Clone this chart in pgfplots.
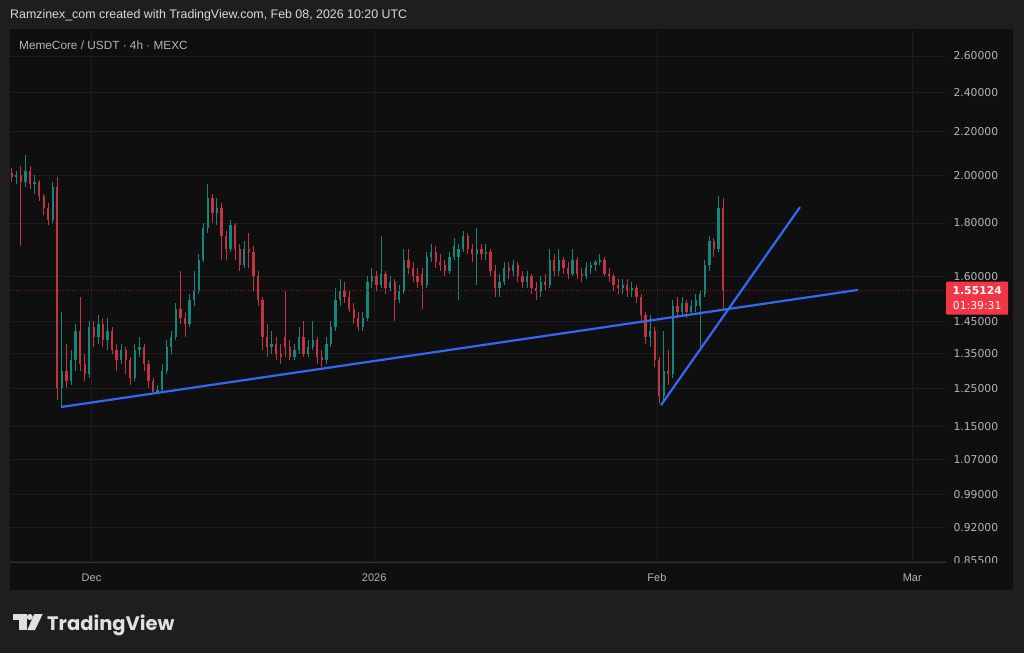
\documentclass[border=0pt]{standalone}
\usepackage{pgfplots}
\pgfplotsset{compat=1.18}
\usepackage{pgfplotstable}
\usepackage{fontspec}
\setmainfont{Liberation Sans}
\newfontfamily\logofont{Poppins}
\newfontfamily\scalefont{DejaVu Sans}

\definecolor{outerbg}{HTML}{1E1E1E}
\definecolor{panelbg}{HTML}{0F0F0F}
\definecolor{gridc}{HTML}{1D1D1D}
\definecolor{upc}{HTML}{13887A}
\definecolor{dnc}{HTML}{C23343}
\definecolor{trend}{HTML}{3468F2}
\definecolor{lbl}{HTML}{B2B5BE}
\definecolor{pricebox}{HTML}{F23645}

% 12h candles, t = days from Dec 1 2025
\pgfplotstableread{
t o h l c
-8.75 2.01 2.03 1.97 1.99
-8.25 1.99 2.02 1.96 2.00
-7.75 2.00 2.04 1.71 1.97
-7.25 1.97 2.09 1.95 2.02
-6.75 2.02 2.04 1.94 1.96
-6.25 1.96 2.00 1.92 1.97
-5.75 1.97 1.98 1.89 1.91
-5.25 1.91 1.92 1.83 1.86
-4.75 1.86 1.88 1.79 1.81
-4.25 1.81 1.97 1.80 1.95
-3.75 1.95 1.99 1.22 1.25
-3.25 1.25 1.48 1.20 1.30
-2.75 1.30 1.38 1.25 1.27
-2.25 1.27 1.36 1.26 1.33
-1.75 1.33 1.44 1.30 1.42
-1.25 1.42 1.53 1.30 1.32
-0.75 1.32 1.35 1.27 1.29
-0.25 1.29 1.45 1.28 1.43
0.25 1.43 1.45 1.37 1.40
0.75 1.40 1.47 1.38 1.44
1.25 1.44 1.46 1.37 1.39
1.75 1.39 1.46 1.36 1.42
2.25 1.42 1.43 1.35 1.36
2.75 1.36 1.38 1.30 1.33
3.25 1.33 1.38 1.32 1.36
3.75 1.36 1.37 1.29 1.33
4.25 1.33 1.34 1.26 1.28
4.75 1.28 1.38 1.27 1.36
5.25 1.36 1.40 1.34 1.37
5.75 1.37 1.38 1.30 1.32
6.25 1.32 1.33 1.25 1.27
6.75 1.27 1.28 1.235 1.24
7.25 1.24 1.26 1.235 1.245
7.75 1.245 1.32 1.24 1.30
8.25 1.30 1.39 1.29 1.37
8.75 1.37 1.42 1.35 1.40
9.25 1.40 1.51 1.39 1.49
9.75 1.49 1.62 1.44 1.46
10.25 1.46 1.48 1.40 1.44
10.75 1.44 1.54 1.43 1.52
11.25 1.52 1.62 1.50 1.55
11.75 1.55 1.68 1.54 1.66
12.25 1.66 1.80 1.65 1.78
12.75 1.78 1.96 1.76 1.90
13.25 1.90 1.92 1.80 1.84
13.75 1.84 1.90 1.79 1.86
14.25 1.86 1.88 1.66 1.75
14.75 1.75 1.77 1.66 1.70
15.25 1.70 1.81 1.69 1.79
15.75 1.79 1.80 1.66 1.70
16.25 1.70 1.72 1.62 1.64
16.75 1.64 1.73 1.63 1.70
17.25 1.70 1.76 1.63 1.69
17.75 1.69 1.71 1.55 1.60
18.25 1.60 1.62 1.50 1.52
18.75 1.52 1.53 1.36 1.40
19.25 1.40 1.44 1.34 1.37
19.75 1.37 1.42 1.35 1.38
20.25 1.38 1.40 1.33 1.35
20.75 1.35 1.38 1.32 1.34
21.25 1.40 1.55 1.34 1.37
21.75 1.37 1.39 1.33 1.34
22.25 1.34 1.38 1.33 1.36
22.75 1.36 1.43 1.35 1.40
23.25 1.40 1.45 1.34 1.35
23.75 1.35 1.39 1.34 1.37
24.25 1.37 1.45 1.36 1.39
24.75 1.39 1.40 1.32 1.34
25.25 1.34 1.36 1.31 1.33
25.75 1.33 1.40 1.32 1.38
26.25 1.38 1.45 1.37 1.43
26.75 1.43 1.56 1.42 1.52
27.25 1.52 1.59 1.50 1.55
27.75 1.55 1.58 1.51 1.53
28.25 1.53 1.55 1.48 1.49
28.75 1.49 1.51 1.44 1.46
29.25 1.46 1.48 1.42 1.43
29.75 1.43 1.48 1.42 1.46
30.25 1.46 1.60 1.45 1.58
30.75 1.58 1.63 1.56 1.60
31.25 1.60 1.62 1.55 1.57
31.75 1.57 1.75 1.56 1.61
32.25 1.61 1.62 1.54 1.56
32.75 1.56 1.60 1.55 1.58
33.25 1.58 1.59 1.45 1.52
33.75 1.52 1.57 1.51 1.55
34.25 1.55 1.70 1.54 1.66
34.75 1.66 1.70 1.61 1.63
35.25 1.63 1.65 1.58 1.60
35.75 1.60 1.63 1.56 1.58
36.25 1.61 1.63 1.49 1.57
36.75 1.57 1.69 1.56 1.67
37.25 1.67 1.72 1.65 1.69
37.75 1.69 1.71 1.63 1.65
38.25 1.65 1.68 1.62 1.64
38.75 1.64 1.66 1.60 1.62
39.25 1.62 1.69 1.61 1.67
39.75 1.67 1.74 1.66 1.71
40.25 1.67 1.72 1.52 1.70
40.75 1.70 1.77 1.69 1.75
41.25 1.75 1.76 1.68 1.70
41.75 1.70 1.72 1.65 1.68
42.25 1.68 1.78 1.57 1.70
42.75 1.70 1.72 1.66 1.68
43.25 1.68 1.72 1.66 1.69
43.75 1.69 1.70 1.60 1.62
44.25 1.62 1.64 1.53 1.56
44.75 1.56 1.61 1.53 1.58
45.25 1.58 1.65 1.57 1.63
45.75 1.63 1.65 1.59 1.62
46.25 1.62 1.66 1.60 1.64
46.75 1.64 1.65 1.58 1.60
47.25 1.60 1.62 1.56 1.58
47.75 1.58 1.62 1.56 1.60
48.25 1.60 1.61 1.54 1.56
48.75 1.56 1.58 1.52 1.55
49.25 1.55 1.60 1.53 1.58
49.75 1.58 1.61 1.55 1.57
50.25 1.57 1.70 1.56 1.66
50.75 1.66 1.68 1.60 1.62
51.25 1.62 1.70 1.60 1.66
51.75 1.66 1.67 1.61 1.63
52.25 1.63 1.65 1.59 1.61
52.75 1.61 1.70 1.60 1.66
53.25 1.66 1.67 1.59 1.61
53.75 1.61 1.63 1.58 1.60
54.25 1.60 1.65 1.59 1.63
54.75 1.63 1.65 1.61 1.64
55.25 1.64 1.66 1.62 1.65
55.75 1.65 1.68 1.64 1.66
56.25 1.66 1.67 1.60 1.61
56.75 1.61 1.63 1.58 1.60
57.25 1.60 1.61 1.55 1.57
57.75 1.57 1.59 1.54 1.56
58.25 1.56 1.59 1.54 1.57
58.75 1.57 1.59 1.53 1.55
59.25 1.55 1.58 1.53 1.56
59.75 1.56 1.57 1.51 1.53
60.25 1.53 1.54 1.45 1.47
60.75 1.47 1.48 1.38 1.40
61.25 1.40 1.47 1.37 1.42
61.75 1.42 1.43 1.31 1.33
62.25 1.33 1.34 1.21 1.23
62.75 1.23 1.42 1.21 1.30
63.25 1.30 1.36 1.26 1.29
63.75 1.29 1.52 1.28 1.50
64.25 1.50 1.53 1.46 1.48
64.75 1.48 1.53 1.47 1.51
65.25 1.51 1.52 1.46 1.48
65.75 1.48 1.52 1.47 1.50
66.25 1.50 1.54 1.48 1.52
66.75 1.50 1.55 1.36 1.54
67.25 1.54 1.66 1.53 1.64
67.75 1.64 1.75 1.62 1.73
68.25 1.73 1.74 1.67 1.70
68.75 1.70 1.91 1.69 1.86
69.25 1.86 1.90 1.49 1.55124
}\candles

% split the table into wick / body segments for up and down candles
\def\upW{}\def\upB{}\def\dnW{}\def\dnB{}
\pgfplotstablegetrowsof{\candles}
\pgfmathtruncatemacro\lastrow{\pgfplotsretval-1}
\foreach \r in {0,...,\lastrow}{%
  \pgfplotstablegetelem{\r}{t}\of\candles \let\ct\pgfplotsretval
  \pgfplotstablegetelem{\r}{o}\of\candles \let\co\pgfplotsretval
  \pgfplotstablegetelem{\r}{h}\of\candles \let\ch\pgfplotsretval
  \pgfplotstablegetelem{\r}{l}\of\candles \let\cl\pgfplotsretval
  \pgfplotstablegetelem{\r}{c}\of\candles \let\cc\pgfplotsretval
  \ifdim\cc pt<\co pt
    \xdef\dnW{\dnW (\ct,\cl) (\ct,\ch) (\ct,nan)}%
    \xdef\dnB{\dnB (\ct,\co) (\ct,\cc) (\ct,nan)}%
  \else
    \xdef\upW{\upW (\ct,\cl) (\ct,\ch) (\ct,nan)}%
    \xdef\upB{\upB (\ct,\co) (\ct,\cc) (\ct,nan)}%
  \fi
}

\begin{document}
\begin{tikzpicture}[x=1pt,y=1pt]
\useasboundingbox (0,0) rectangle (1024,653);
\fill[outerbg] (0,0) rectangle (1024,653);
\fill[panelbg] (10,63) rectangle (1013,624);
\draw[color=black!80!white, line width=0.6pt] (10,91) -- (946,91);

\node[anchor=west, text=white!85!black, inner sep=0pt,
  font=\fontsize{12.4}{14}\selectfont] at (10,638)
  {Ramzinex\_com created with TradingView.com, Feb 08, 2026 10:20 UTC};

\begin{scope}
\clip (0,0) -- (946,0) -- (946,91) -- (1024,91) -- (1024,653) -- (0,653) -- cycle;
\begin{axis}[
  at={(10pt,91pt)}, anchor=south west,
  scale only axis, width=936pt, height=532pt,
  ymode=log, ymin=0.853, ymax=2.753,
  xmin=-8.94, xmax=93.7,
  axis line style={draw=none},
  tick style={draw=none},
  xtick={0,31,62,90},
  xticklabels={Dec,2026,Feb,Mar},
  ytick={0.855,0.92,0.99,1.07,1.15,1.25,1.35,1.45,1.6,1.8,2.0,2.2,2.4,2.6},
  yticklabels={0.85500,0.92000,0.99000,1.07000,1.15000,1.25000,1.35000,1.45000,1.60000,1.80000,2.00000,2.20000,2.40000,2.60000},
  yticklabel pos=right,
  yticklabel style={text=lbl, font=\scalefont\fontsize{10.8}{12}\selectfont, xshift=4pt},
  xticklabel style={text=lbl, font=\fontsize{11}{12}\selectfont, yshift=-8pt},
  grid=major,
  major grid style={draw=gridc, line width=0.8pt},
  unbounded coords=jump,
]
\edef\tmp{\noexpand\addplot[draw=upc, line width=0.9pt, mark=none] coordinates {\upW};}\tmp
\edef\tmp{\noexpand\addplot[draw=dnc, line width=0.9pt, mark=none] coordinates {\dnW};}\tmp
\edef\tmp{\noexpand\addplot[draw=upc, line width=2.3pt, line cap=butt, mark=none] coordinates {\upB};}\tmp
\edef\tmp{\noexpand\addplot[draw=dnc, line width=2.3pt, line cap=butt, mark=none] coordinates {\dnB};}\tmp
% last price line
\addplot[draw=pricebox!55!black, line width=0.8pt, dotted] coordinates {(-8.94,1.55124) (93.7,1.55124)};
% trend lines
\addplot[draw=trend, line width=2.2pt] coordinates {(-3.34,1.200) (84.05,1.553)};
\addplot[draw=trend, line width=2.2pt] coordinates {(62.45,1.205) (77.69,1.864)};
\coordinate (lastp) at (axis cs:93.7,1.55124);
\end{axis}
\end{scope}

\node[fill=pricebox, text=white, anchor=north west, inner sep=0pt, rounded corners=1pt,
  minimum width=62pt, minimum height=33pt, align=center,
  font=\scalefont\fontsize{10.8}{15}\selectfont, yshift=9pt] at (lastp) {\textbf{1.55124}\\01:39:31};

\node[anchor=west, text=lbl, inner sep=0pt, font=\fontsize{11.8}{13}\selectfont]
  at (19,608) {MemeCore / USDT · 4h · MEXC};

% TradingView logo
\fill[white!88!black] (12.7,39) rectangle (26.7,33);
\fill[white!88!black] (19,39) rectangle (26.7,23);
\fill[white!88!black] (29.8,36) circle (3);
\fill[white!88!black] (34.3,39) -- (42.7,39) -- (35,23) -- (27.3,23) -- cycle;
\node[anchor=base west, inner sep=0pt, text=white!88!black,
  font=\logofont\bfseries\fontsize{19.5}{22}\selectfont] at (47,23) {TradingView};
\end{tikzpicture}
\end{document}
